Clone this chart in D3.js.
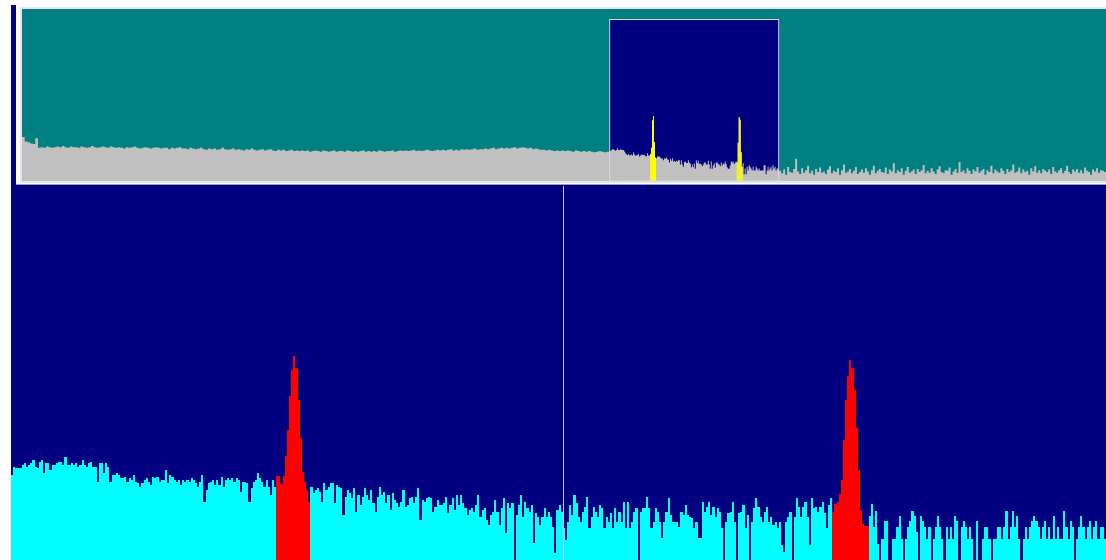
<!DOCTYPE html>
<html>
<head>
<meta charset="utf-8">
<script src="https://cdn.jsdelivr.net/npm/d3@7/dist/d3.min.js"></script>
<style>
  html, body { margin: 0; padding: 0; background: #ffffff; overflow: hidden; }
  svg { display: block; }
</style>
</head>
<body>
<svg id="chart" width="1106" height="560"></svg>
<script>
// ---- Spectrum data (level units) ----------------------------------------
// Zoomed span, 512 bins, split into noise-floor stretches and two tones.
const binsA = [42.5,46.5,46,46,46,47.5,48.5,46.5,47.5,48.5,
  50,46.5,46,49,50,43.5,48.5,48.5,45,47.5,
  47.5,48.5,49,49,47.5,51.5,47.5,47.5,48.5,47.5,
  48.5,46.5,47.5,50,47.5,46.5,48.5,49,46.5,46.5,
  39,48.5,48.5,43.5,48.5,46.5,39,42.5,42.5,43.5,
  42.5,41,41,41.5,39,41,40,42.5,39,38.5,
  36.5,38.5,40,41,39,37.5,41.5,41,41.5,39,
  40,40,45,38.5,42.5,41.5,40,39,40,37.5,
  40,39,40,39,41,40,38.5,36.5,39,42.5,
  29,35,38.5,39,40,37.5,40,37.5,41.5,36.5,
  40,41,40,41,39,41,40,34,39,39,
  38.5,29,36,39,40,43.5,41,39,36.5,40,
  36.5,32.5,40,36.5];
const toneA = [42,42,38,42,52,65,82,95,102,96,80,61,44,39,35,29];
const binsB = [36.7,33.3,35,35.8,34.2,29.2,38.3,35,36.7,38.3,
  38.3,28.3,37.5,36.7,35.8,22.5,31.7,35,33.3,30.8,
  35.8,24.2,32.5,27.5,31.7,35.8,32.5,30,35,28.3,
  24.2,31.7,36.7,32.5,34.2,28.3,32.5,25,33.3,30,
  28.3,26.7,29.2,35,26.7,27.5,30.8,31.7,28.3,31.7,
  35.8,20,30,29.2,30.8,31.7,30.8,24.2,26.7,30,
  27.5,27.5,28.3,31.7,23.3,27.5,30.8,25,32.5,27.5,
  32.5,28.3,25.8,22.5,25,25.8,24.2,27.5,32.5,21.7,
  25,25.8,20,17.5,22.5,24.2,30,24.2,17.5,25.8,
  30.8,13.3,28.3,25.8,28.3,0,22.5,27.5,32.5,21.7,
  29.2,25.8,24.2,27.5,8.3,23.3,21.7,17.5,21.7,25.8,
  21.7,24.2,21.7,16.7,3.3,25];
const binsC = [27.5,24.2,15.8,10,19.2,27.5,22.5,32.5,28.3,21.7,
  19.2,24.2,26.7,31.7,15.8,21.7,26.7,24.2,21.7,27.5,
  25.8,15.8,21.7,19.2,23.3,15.8,25.8,19.2,24.2,19.2,
  29.2,15.8,29.2,15.8,19.2,24.2,25.8,0,24.2,25.8,
  25.8,31.7,25.8,15.8,19.2,25.8,24.2,19.2,10.8,19.2,
  24.2,30.8,22.5,19.2,19.2,19.2,16.7,24.2,22.5,27.5,
  22.5,21.7,20.8,15.8,19.2,10.8,10.8,29.2,24.2,26.7,
  29.2,22.5,26.7,21.7,25.8,24.2,15.8,0,19.2,23.3,
  24.2,29.2,19.2,0,23.3,24.2,27.5,15.8,22.5,0,
  19.2,25.8,30.8,26.7,21.7,19.2,24.2,26.7,19.2,21.7,
  17.5,19.2,15.8,19.2,7.5,4.2,19.2,21.7,24.2,0,
  21.7,30.8,26.7,21.7,26.7,29.2,21.7,7.5,30.8,25.8,
  26.7,24.2,26.7,29.2,23.3,15.8,27.5,30.8];
const toneB = [24,28,29,33,40,60,80,92,100,96,85,66,45,25,18,17,17];
const binsD = [22.2,28,16.3,24.7,8,0,10.5,19.7,19.7,0,
  0,10.5,10.5,16.3,22.2,10.5,0,10.5,16.3,19.7,
  24.7,22.2,13.8,0,22.2,19.7,16.3,10.5,16.3,0,
  10.5,16.3,22.2,16.3,10.5,0,16.3,10.5,16.3,10.5,
  22.2,19.7,0,16.3,19.7,16.3,10.5,16.3,10.5,0,
  19.7,0,0,10.5,16.3,16.3,10.5,0,10.5,10.5,
  16.3,16.3,10.5,16.3,24.7,10.5,16.3,24.7,16.3,22.2,
  10.5,0,10.5,16.3,10.5,16.3,19.7,22.2,19.7,16.3,
  10.5,16.3,19.7,10.5,16.3,10.5,22.2,10.5,16.3,10.5,
  10.5,24.7,16.3,10.5,19.7,16.3,0,10.5,16.3,22.2,
  16.3,10.5,16.3,19.7,10.5,16.3,19.7,10.5,16.3,16.3,
  10.5];

// Full-band overview outside the zoomed span (coarser bins).
const overviewLeft = [69,62,61,59,58,67,
  52,53,52,54,53,52,53,54,53,55,53,52,54,53,53,52,54,53,52,53,55,53,52,53,54,
  53,52,54,53,52,53,52,51,53,52,53,54,52,51,52,53,52,51,52,53,52,51,52,52,50,52,51,52,53,51,
  51,50,52,51,50,51,52,50,49,51,50,51,49,50,52,50,49,50,51,49,50,49,48,50,49,51,49,48,49,50,
  48,49,50,48,47,49,48,49,47,48,49,47,48,47,
  48,47,48,46,47,48,47,46,48,47,46,47,48,46,47,47,46,48,47,46,47,46,47,48,46,47,46,47,46,48,
  47,46,47,47,48,46,47,48,47,48,47,48,49,47,48,47,48,49,48,47,48,49,48,49,48,49,50,48,49,48,
  50,49,50,49,50,51,49,50,
  50,51,50,51,52,50,51,52,51,52,51,52,53,51,52,53,52,51,52,50,51,50,49,
  49,48,49,48,47,48,47,48,47,48,47,46,48,47,46,47,46,47,46,45,46,47,46,45,46];
const overviewRight = [16,12,18,10,22,14,13,19,35,15,11,20,13,17,24,12,16,10,19,14,
  21,13,15,11,18,23,12,16,14,20,10,17,26,13,15,19,12,16,22,11,
  14,18,13,20,15,10,17,24,12,16,19,14,13,21,11,18,15,28,12,17,
  14,20,10,16,22,13,15,18,11,19,14,17,25,12,16,13,20,15,11,18,
  23,14,12,17,16,21,10,15,19,13,30,14,17,12,20,16,11,18,15,22,
  13,16,19,10,17,14,24,12,18,15,13,20,16,11,19,14,17,26,13,15,
  21,12,18,14,16,10,20,15,23,13,17,12,19,16,14,18,11,22,15,13,
  17,20,12,16,24,14,11,18,15,19,13,17,12,21,16,14,10,18,15,20,
  13,17,16,14];
const leftBinSpan = 8;    // fine bins per overview-left bin
const rightBinSpan = 6;   // fine bins per overview-right bin
const spanDecimate = 3;   // fine bins per overview column inside the span
const markerBin = 258;    // centre marker inside the zoomed span

// ---- Assemble ------------------------------------------------------------
const segments = [
  { vals: binsA, tone: false }, { vals: toneA, tone: true },
  { vals: binsB, tone: false }, { vals: binsC, tone: false },
  { vals: toneB, tone: true },  { vals: binsD, tone: false }
];
const spectrum = [];
segments.forEach(s => s.vals.forEach(v => spectrum.push({ v, tone: s.tone })));
const N = spectrum.length;

const spanStart = overviewLeft.length * leftBinSpan;
const spanEnd = spanStart + N;
const total = spanEnd + overviewRight.length * rightBinSpan;

const W = 1106, H = 560;
const svg = d3.select('#chart');

// Window frame
svg.append('rect').attr('x', 11).attr('y', 5).attr('width', W - 11).attr('height', H - 5).attr('fill', '#000080');

// ---- Overview panel --------------------------------------------------------
const ov = { x0: 22, x1: W, top: 9, bottom: 181 };
svg.append('rect').attr('x', 16).attr('y', 5).attr('width', W - 16).attr('height', 180).attr('fill', '#ffffff');
svg.append('rect').attr('x', 20).attr('y', 7).attr('width', W - 20).attr('height', 176).attr('fill', '#e4e4f4');
svg.append('rect').attr('x', 16).attr('y', 184).attr('width', W - 16).attr('height', 1).attr('fill', '#9a9ac0');
svg.append('rect').attr('x', ov.x0).attr('y', ov.top).attr('width', ov.x1 - ov.x0).attr('height', ov.bottom - ov.top).attr('fill', '#008080');

const xo = d3.scaleLinear().domain([0, total]).range([ov.x0, ov.x1]);
const yo = d3.scaleLinear().domain([0, 270]).range([ov.bottom, ov.top]);

// zoomed-span window
svg.append('rect')
  .attr('x', xo(spanStart)).attr('y', 19)
  .attr('width', xo(spanEnd) - xo(spanStart)).attr('height', ov.bottom - 19)
  .attr('fill', '#000080');

// span decimated to overview columns (peak of each group)
const spanCols = d3.range(0, N, spanDecimate).map(i => {
  const grp = spectrum.slice(i, i + spanDecimate);
  return { f: spanStart + i, n: grp.length, v: d3.max(grp, d => d.v), tone: grp.some(d => d.tone) };
});

// full-band trace as step points
const ovPts = [];
overviewLeft.forEach((v, i) => ovPts.push({ f: i * leftBinSpan, v }));
spanCols.forEach(c => ovPts.push({ f: c.f, v: c.v }));
overviewRight.forEach((v, i) => ovPts.push({ f: spanEnd + i * rightBinSpan, v }));
ovPts.push({ f: total, v: overviewRight[overviewRight.length - 1] });

const ovArea = d3.area()
  .x(d => xo(d.f)).y0(ov.bottom).y1(d => yo(d.v))
  .curve(d3.curveStepAfter);
svg.append('path').datum(ovPts).attr('d', ovArea).attr('fill', '#c0c0c0');

// tones highlighted in the overview
svg.append('g').selectAll('rect').data(spanCols.filter(c => c.tone)).join('rect')
  .attr('x', c => xo(c.f))
  .attr('width', c => xo(c.f + c.n) - xo(c.f))
  .attr('y', c => yo(c.v))
  .attr('height', c => ov.bottom - yo(c.v))
  .attr('fill', '#ffff00');

svg.append('rect')
  .attr('x', xo(spanStart) + 0.5).attr('y', 19.5)
  .attr('width', xo(spanEnd) - xo(spanStart) - 1).attr('height', ov.bottom - 19.5)
  .attr('fill', 'none').attr('stroke', '#d8d8ec').attr('stroke-width', 1);

// ---- Detail panel ----------------------------------------------------------
const dt = { x0: 11, x1: W, top: 186, bottom: H };
const xs = d3.scaleLinear().domain([0, N]).range([dt.x0, dt.x1]);
const ys = d3.scaleLinear().domain([0, 187]).range([dt.bottom, dt.top]);

svg.append('g').attr('shape-rendering', 'crispEdges')
  .selectAll('rect').data(spectrum).join('rect')
  .attr('x', (d, i) => xs(i))
  .attr('width', (d, i) => xs(i + 1) - xs(i))
  .attr('y', d => ys(d.v))
  .attr('height', d => dt.bottom - ys(d.v))
  .attr('fill', d => d.tone ? '#ff0000' : '#00ffff');

svg.append('line')
  .attr('x1', Math.round(xs(markerBin)) + 0.5).attr('x2', Math.round(xs(markerBin)) + 0.5)
  .attr('y1', dt.top).attr('y2', dt.bottom)
  .attr('stroke', '#c4c4dc').attr('stroke-width', 1);
</script>
</body>
</html>
